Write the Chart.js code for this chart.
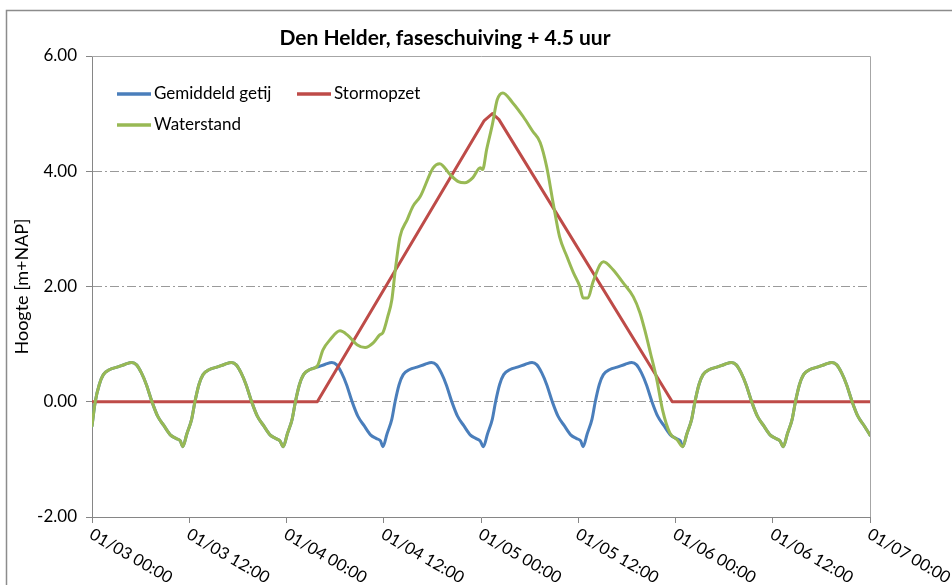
<!DOCTYPE html>
<html>
<head>
<meta charset="utf-8">
<script src="https://cdn.jsdelivr.net/npm/chart.js@4"></script>
<style>
  html, body { margin: 0; padding: 0; background: #fff; }
</style>
</head>
<body>
<canvas id="chart" width="952" height="585"></canvas>
<script>
// hours since 01/03 00:00
const xTickLabels = ['01/03 00:00', '01/03 12:00', '01/04 00:00', '01/04 12:00', '01/05 00:00',
                     '01/05 12:00', '01/06 00:00', '01/06 12:00', '01/07 00:00'];

const tideHours = [0.0, 0.4, 0.9, 1.4, 2.2, 3.1, 4.1, 4.9, 5.5, 6.1, 6.7, 7.4, 8.1, 8.9, 9.7, 10.4, 10.9,
  11.2, 11.7, 12.3, 12.7, 13.2, 13.7, 14.5, 15.4, 16.4, 17.2, 17.8, 18.4, 19.0, 19.7, 20.4, 21.2, 22.0, 22.7, 23.2,
  23.6, 24.1, 24.7, 25.1, 25.6, 26.1, 26.9, 27.8, 28.8, 29.6, 30.2, 30.8, 31.4, 32.1, 32.8, 33.6, 34.4, 35.1, 35.6,
  35.9, 36.4, 37.0, 37.4, 37.9, 38.4, 39.2, 40.1, 41.1, 41.9, 42.5, 43.1, 43.7, 44.4, 45.1, 45.9, 46.7, 47.4, 47.9,
  48.3, 48.8, 49.4, 49.8, 50.3, 50.8, 51.6, 52.5, 53.5, 54.3, 54.9, 55.5, 56.1, 56.8, 57.5, 58.3, 59.1, 59.8, 60.3,
  60.6, 61.1, 61.7, 62.1, 62.6, 63.1, 63.9, 64.8, 65.8, 66.6, 67.2, 67.8, 68.4, 69.1, 69.8, 70.6, 71.4, 72.1, 72.6,
  72.9, 73.4, 74.0, 74.4, 74.9, 75.4, 76.2, 77.1, 78.1, 78.9, 79.5, 80.1, 80.7, 81.4, 82.1, 82.9, 83.7, 84.4, 84.9,
  85.3, 85.8, 86.4, 86.8, 87.3, 87.8, 88.6, 89.5, 90.5, 91.3, 91.9, 92.5, 93.1, 93.8, 94.5, 95.3, 96.0];
const tideValues = [-0.42, 0.0, 0.3, 0.47, 0.56, 0.6, 0.65, 0.68, 0.64, 0.5, 0.3, 0.0, -0.25, -0.42, -0.58, -0.64, -0.68,
  -0.78, -0.56, -0.3, 0.0, 0.3, 0.47, 0.56, 0.6, 0.65, 0.68, 0.64, 0.5, 0.3, 0.0, -0.25, -0.42, -0.58, -0.64, -0.68,
  -0.78, -0.56, -0.3, 0.0, 0.3, 0.47, 0.56, 0.6, 0.65, 0.68, 0.64, 0.5, 0.3, 0.0, -0.25, -0.42, -0.58, -0.64, -0.68,
  -0.78, -0.56, -0.3, 0.0, 0.3, 0.47, 0.56, 0.6, 0.65, 0.68, 0.64, 0.5, 0.3, 0.0, -0.25, -0.42, -0.58, -0.64, -0.68,
  -0.78, -0.56, -0.3, 0.0, 0.3, 0.47, 0.56, 0.6, 0.65, 0.68, 0.64, 0.5, 0.3, 0.0, -0.25, -0.42, -0.58, -0.64, -0.68,
  -0.78, -0.56, -0.3, 0.0, 0.3, 0.47, 0.56, 0.6, 0.65, 0.68, 0.64, 0.5, 0.3, 0.0, -0.25, -0.42, -0.58, -0.64, -0.68,
  -0.78, -0.56, -0.3, 0.0, 0.3, 0.47, 0.56, 0.6, 0.65, 0.68, 0.64, 0.5, 0.3, 0.0, -0.25, -0.42, -0.58, -0.64, -0.68,
  -0.78, -0.56, -0.3, 0.0, 0.3, 0.47, 0.56, 0.6, 0.65, 0.68, 0.64, 0.5, 0.3, 0.0, -0.25, -0.42, -0.58];

const surgeHours = [0, 27.8, 48.4, 49.4, 50.2, 71.6, 96];
const surgeValues = [0, 0, 4.88, 5.0, 4.9, 0, 0];

const waterHours = [0.0, 0.4, 0.9, 1.4, 2.2, 3.1, 4.1, 4.9, 5.5, 6.1, 6.7, 7.4, 8.1, 8.9, 9.7, 10.4, 10.9,
  11.2, 11.7, 12.3, 12.7, 13.2, 13.7, 14.5, 15.4, 16.4, 17.2, 17.8, 18.4, 19.0, 19.7, 20.4, 21.2, 22.0, 22.7, 23.2,
  23.6, 24.1, 24.7, 25.1, 25.6, 26.1, 26.9, 27.8,
  28.5, 29.4, 30.6, 31.5, 32.7, 33.7, 34.7, 35.5, 35.9, 36.5, 37.0, 37.4, 38.0, 38.9, 39.6, 40.5, 42.1, 42.9,
  44.2, 45.2, 46.0, 47.0, 47.9, 48.2, 48.7, 49.4, 50.0, 50.7, 51.9, 53.2, 54.4, 55.3, 56.1, 56.9, 57.7, 58.6,
  59.4, 60.2, 60.6, 61.2, 61.8, 62.7, 63.1, 64.3, 65.5, 66.8, 67.6, 68.2, 68.9, 69.7, 70.4, 71.3, 72.2,
  72.9, 73.4, 74.0, 74.4, 74.9, 75.4, 76.2, 77.1, 78.1, 78.9, 79.5, 80.1, 80.7, 81.4, 82.1, 82.9, 83.7, 84.4, 84.9,
  85.3, 85.8, 86.4, 86.8, 87.3, 87.8, 88.6, 89.5, 90.5, 91.3, 91.9, 92.5, 93.1, 93.8, 94.5, 95.3, 96.0];
const waterValues = [-0.42, 0.0, 0.3, 0.47, 0.56, 0.6, 0.65, 0.68, 0.64, 0.5, 0.3, 0.0, -0.25, -0.42, -0.58, -0.64, -0.68,
  -0.78, -0.56, -0.3, 0.0, 0.3, 0.47, 0.56, 0.6, 0.65, 0.68, 0.64, 0.5, 0.3, 0.0, -0.25, -0.42, -0.58, -0.64, -0.68,
  -0.78, -0.56, -0.3, 0.0, 0.3, 0.47, 0.56, 0.62,
  0.9, 1.08, 1.23, 1.16, 0.99, 0.94, 1.02, 1.16, 1.2, 1.48, 1.77, 2.26, 2.86, 3.16, 3.39, 3.56, 4.06, 4.13,
  3.94, 3.82, 3.8, 3.89, 4.06, 4.03, 4.38, 4.81, 5.24, 5.36, 5.19, 4.95, 4.69, 4.5, 4.08, 3.45, 2.86, 2.52,
  2.24, 2.0, 1.8, 1.8, 2.07, 2.38, 2.43, 2.29, 2.07, 1.82, 1.55, 1.25, 0.85, 0.38, -0.14, -0.54, -0.66,
  -0.78, -0.56, -0.3, 0.0, 0.3, 0.47, 0.56, 0.6, 0.65, 0.68, 0.64, 0.5, 0.3, 0.0, -0.25, -0.42, -0.58, -0.64, -0.68,
  -0.78, -0.56, -0.3, 0.0, 0.3, 0.47, 0.56, 0.6, 0.65, 0.68, 0.64, 0.5, 0.3, 0.0, -0.25, -0.42, -0.58];

const BLUE = '#4a7ebb', RED = '#be4b48', GREEN = '#98b954';
const AXIS = '#868686';

const toPoints = (xs, ys) => xs.map((x, i) => ({ x: x, y: ys[i] }));

Chart.defaults.font.family = 'Lato';
Chart.defaults.color = '#000';

const decor = {
  id: 'decor',
  beforeDraw(chart) {
    const c = chart.ctx;
    c.save();
    c.strokeStyle = '#8c8c8c';
    c.lineWidth = 1.5;
    c.strokeRect(6.5, 10.5, 2000, 2000);
    c.restore();
  },
  afterDraw(chart) {
    const c = chart.ctx, a = chart.chartArea;
    c.save();
    // plot area frame (top + right)
    c.strokeStyle = '#a6a6a6';
    c.lineWidth = 1;
    c.beginPath();
    c.moveTo(a.left, a.top + 0.5);
    c.lineTo(a.right + 0.5, a.top + 0.5);
    c.lineTo(a.right + 0.5, a.bottom);
    c.stroke();

    // title
    c.fillStyle = '#000';
    c.font = 'bold 21px Lato';
    c.textAlign = 'center';
    c.textBaseline = 'middle';
    c.fillText('Den Helder, faseschuiving + 4.5 uur', 445, 38);

    // legend
    const items = [
      { text: 'Gemiddeld getij', color: BLUE, x: 117, y: 94 },
      { text: 'Stormopzet', color: RED, x: 297, y: 94 },
      { text: 'Waterstand', color: GREEN, x: 117, y: 125 }
    ];
    c.font = '17px Lato';
    c.textAlign = 'left';
    items.forEach(it => {
      c.strokeStyle = it.color;
      c.lineWidth = 3.5;
      c.beginPath();
      c.moveTo(it.x, it.y);
      c.lineTo(it.x + 34, it.y);
      c.stroke();
      c.fillText(it.text, it.x + 37, it.y);
    });

    // rotated x tick labels
    const xs = chart.scales.x;
    c.font = '16.5px Lato';
    c.textBaseline = 'middle';
    xTickLabels.forEach((lab, i) => {
      const px = xs.getPixelForValue(i * 12);
      c.save();
      c.translate(px - 1, a.bottom + 16);
      c.rotate(30 * Math.PI / 180);
      c.fillText(lab, 0, 0);
      c.restore();
    });
    c.restore();
  }
};

new Chart(document.getElementById('chart'), {
  type: 'line',
  data: {
    datasets: [
      { label: 'Gemiddeld getij', data: toPoints(tideHours, tideValues), borderColor: BLUE, order: 3,
        cubicInterpolationMode: 'monotone' },
      { label: 'Stormopzet', data: toPoints(surgeHours, surgeValues), borderColor: RED, order: 2, tension: 0 },
      { label: 'Waterstand', data: toPoints(waterHours, waterValues), borderColor: GREEN, order: 1,
        cubicInterpolationMode: 'monotone' }
    ]
  },
  options: {
    responsive: false,
    animation: false,
    layout: { padding: { top: 56, right: 82, left: 0, bottom: 0 } },
    elements: {
      point: { radius: 0 },
      line: { borderWidth: 3, borderCapStyle: 'round', borderJoinStyle: 'round' }
    },
    plugins: { legend: { display: false }, tooltip: { enabled: false }, title: { display: false } },
    scales: {
      x: {
        type: 'linear',
        min: 0, max: 96,
        ticks: { stepSize: 12, display: false },
        grid: { drawOnChartArea: false, drawTicks: true, tickLength: 6, tickColor: AXIS },
        border: { color: AXIS, width: 1 },
        afterFit: s => { s.height = 68; }
      },
      y: {
        min: -2, max: 6,
        ticks: { stepSize: 2, padding: 9, font: { size: 17 }, callback: v => v.toFixed(2) },
        grid: {
          color: ctx => (ctx.tick && (ctx.tick.value === 4 || ctx.tick.value === 2 || ctx.tick.value === 0)) ? '#9a9a9a' : 'rgba(0,0,0,0)',
          lineWidth: 1,
          tickLength: 6,
          tickColor: AXIS
        },
        border: { color: AXIS, width: 1, dash: [9, 3, 2, 3] },
        title: { display: true, text: 'Hoogte [m+NAP]', font: { size: 18 }, padding: { top: 11, bottom: 0 } },
        afterFit: s => { s.width = 92; }
      }
    }
  },
  plugins: [decor]
});
</script>
</body>
</html>
